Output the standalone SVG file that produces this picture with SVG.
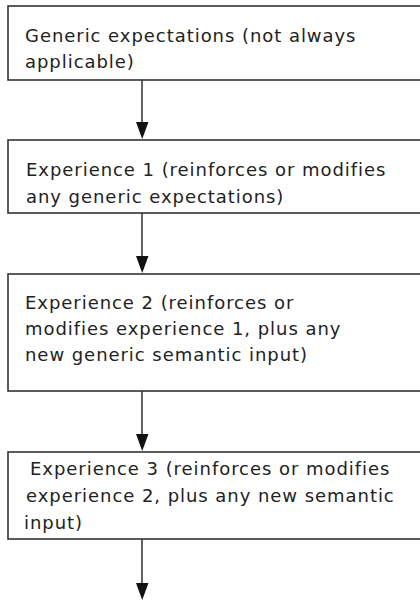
<svg xmlns="http://www.w3.org/2000/svg" width="420" height="601" viewBox="0 0 420 601">
  <style>
    .box { fill: #ffffff; stroke: #333333; stroke-width: 1.6; }
    .lbl { font-family: "DejaVu Sans", "Liberation Sans", sans-serif; font-size: 18px; letter-spacing: 0.95px; fill: #222222; }
    .edge { stroke: #222222; stroke-width: 1.4; fill: none; }
    .head { fill: #111111; }
  </style>
  <rect width="420" height="601" fill="#ffffff"/>
  <g id="edges">
    <line class="edge" x1="142" y1="80" x2="142" y2="122" />
    <path class="head" d="M136,122 L148.5,122 L142.2,139 Z"/>
    <line class="edge" x1="142" y1="213" x2="142" y2="256" />
    <path class="head" d="M136,256 L148.5,256 L142.2,273 Z"/>
    <line class="edge" x1="142" y1="391" x2="142" y2="434" />
    <path class="head" d="M136,434 L148.5,434 L142.2,451 Z"/>
    <line class="edge" x1="142" y1="539" x2="142" y2="583" />
    <path class="head" d="M136,583 L148.5,583 L142.2,600 Z"/>
  </g>
  <g id="n1">
    <rect class="box" x="8" y="6" width="420" height="74"/>
    <text class="lbl" x="25" y="42">Generic expectations (not always</text>
    <text class="lbl" x="25" y="68">applicable)</text>
  </g>
  <g id="n2">
    <rect class="box" x="8" y="140" width="420" height="73"/>
    <text class="lbl" x="26" y="176">Experience 1 (reinforces or modifies</text>
    <text class="lbl" x="26" y="203">any generic expectations)</text>
  </g>
  <g id="n3">
    <rect class="box" x="8" y="274" width="420" height="117"/>
    <text class="lbl" x="25" y="309">Experience 2 (reinforces or</text>
    <text class="lbl" x="25" y="335">modifies experience 1, plus any</text>
    <text class="lbl" x="25" y="361">new generic semantic input)</text>
  </g>
  <g id="n4">
    <rect class="box" x="8" y="452" width="420" height="87"/>
    <text class="lbl" x="30" y="475">Experience 3 (reinforces or modifies</text>
    <text class="lbl" x="26" y="502">experience 2, plus any new semantic</text>
    <text class="lbl" x="24" y="529">input)</text>
  </g>
</svg>
